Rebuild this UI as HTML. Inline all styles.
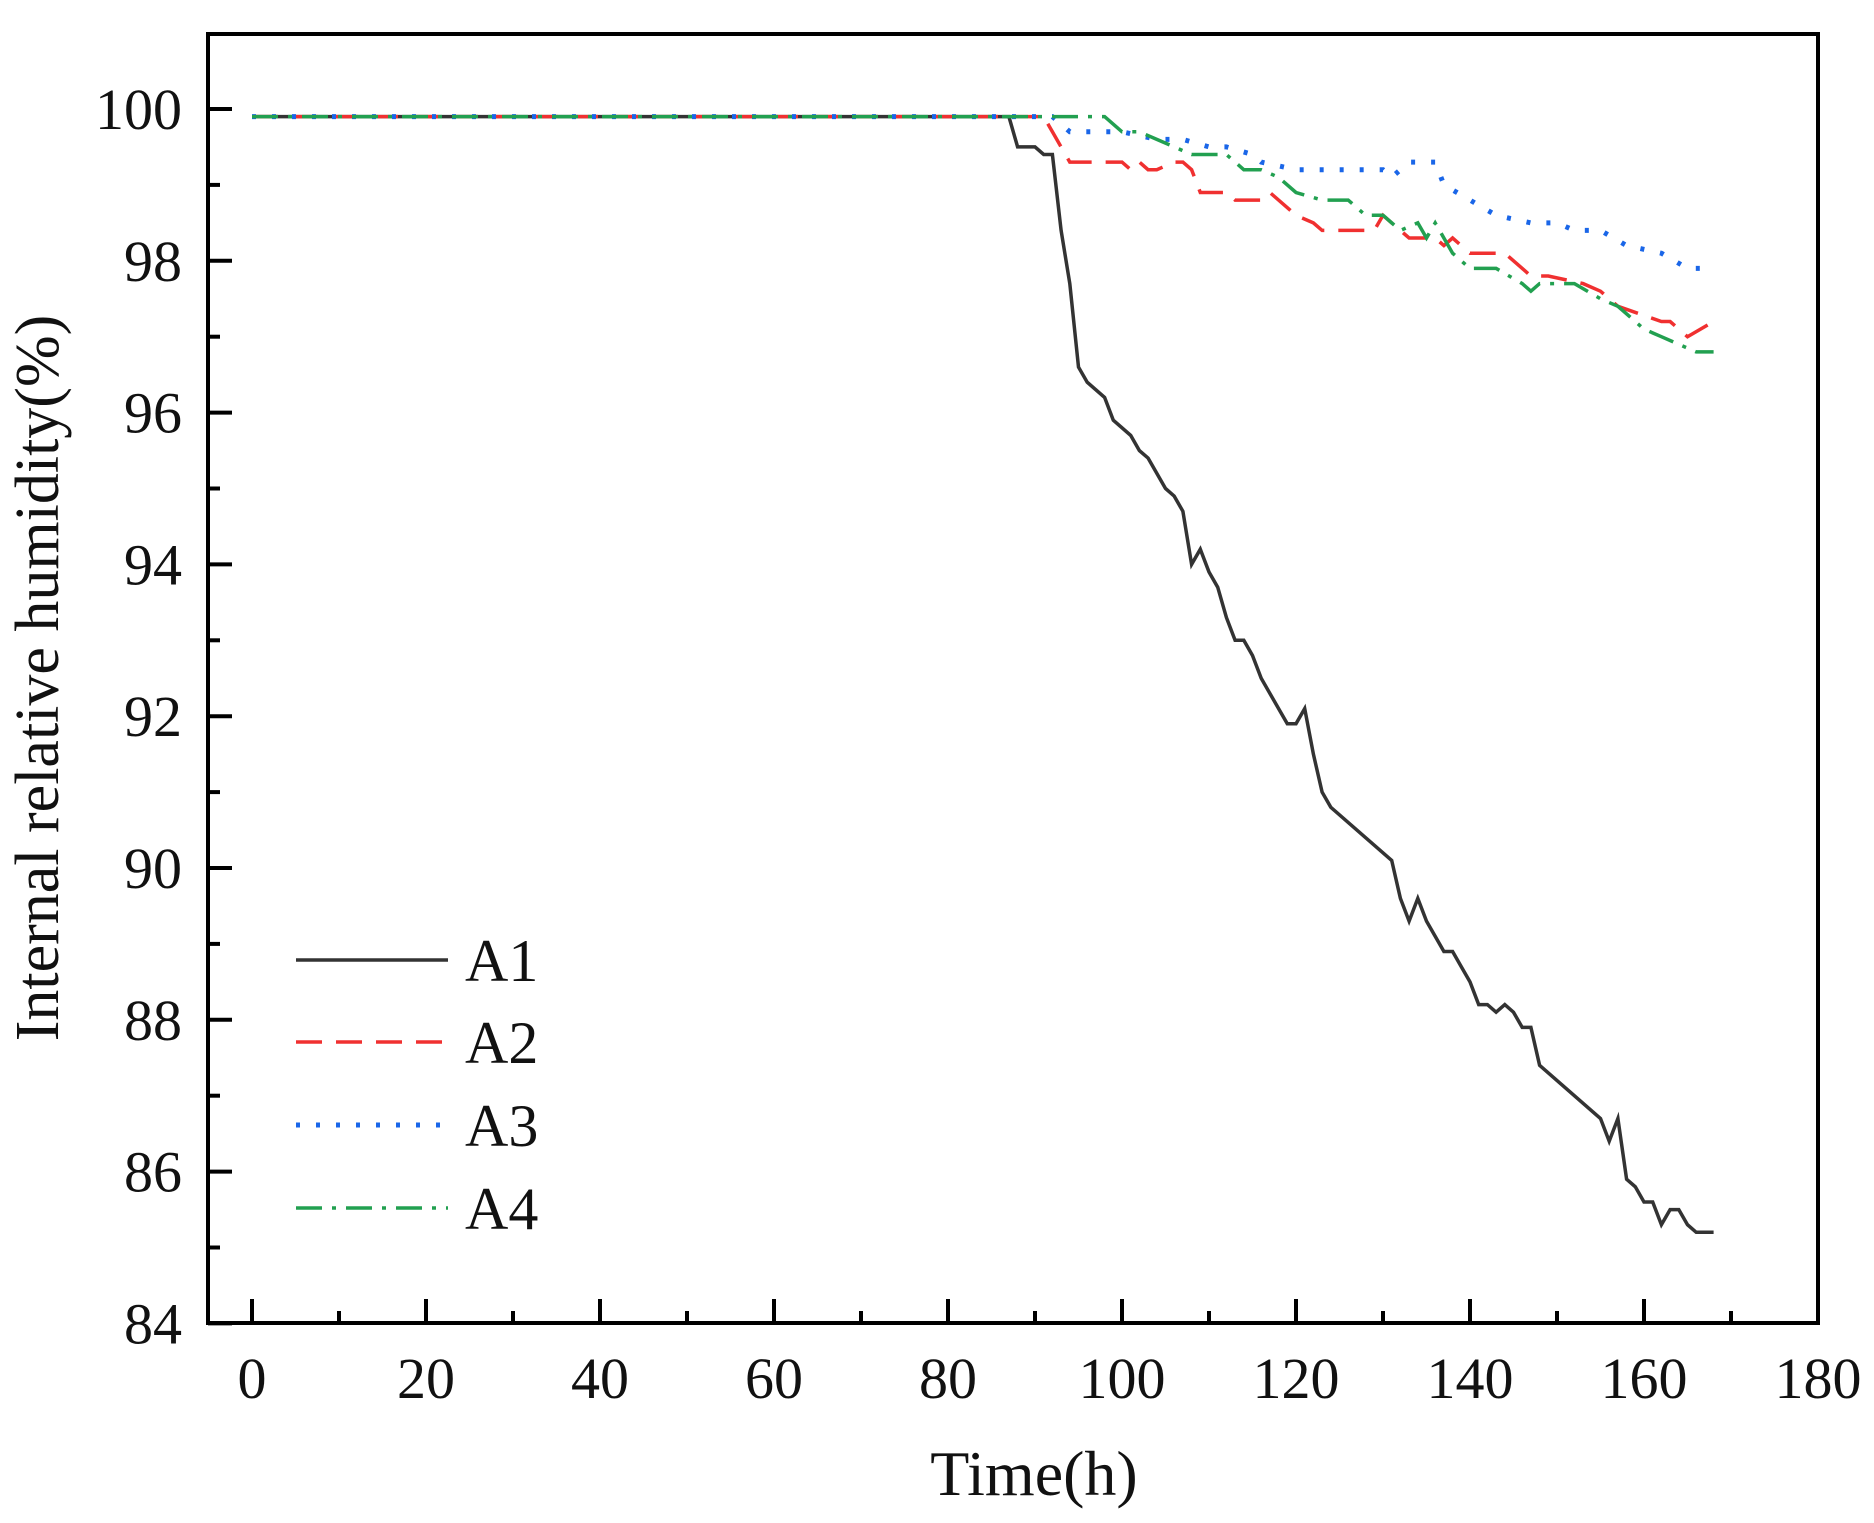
<!DOCTYPE html>
<html><head><meta charset="utf-8"><style>body{margin:0;background:#fff}svg{display:block}</style></head>
<body>
<svg id="s" width="1874" height="1523" viewBox="0 0 1874 1523" xmlns="http://www.w3.org/2000/svg" font-family="Liberation Serif, serif">
<rect width="1874" height="1523" fill="#fff"/>
<g id="plot"></g>
<g id="axes" stroke="#000" stroke-width="4" fill="none">
<path d="M208,34 H1818 V1323 H208 Z"/>
</g>
<g id="ticks" stroke="#000" stroke-width="4"></g>
<g id="labels" font-size="58" fill="#111"></g>
<text x="1034" y="1495" font-size="64" text-anchor="middle" fill="#111">Time(h)</text>
<text transform="translate(58,678) rotate(-90)" font-size="62" text-anchor="middle" fill="#111">Internal relative humidity(%)</text>
<g stroke-width="3.5" fill="none">
<line x1="296" y1="960" x2="448" y2="960" stroke="#333"/>
<line x1="296" y1="1042" x2="448" y2="1042" stroke="#f03030" stroke-dasharray="26,14"/>
<line x1="296" y1="1125" x2="448" y2="1125" stroke="#1a66e8" stroke-dasharray="4,16" stroke-width="5"/>
<line x1="296" y1="1208" x2="448" y2="1208" stroke="#22a050" stroke-dasharray="26,10,4,10"/>
</g>
<g font-size="60" fill="#111">
<text x="465" y="981">A1</text><text x="465" y="1063">A2</text><text x="465" y="1146">A3</text><text x="465" y="1229">A4</text>
</g>
</svg>
<script>
const X=t=>252+8.7*t, Y=v=>109+(100-v)*75.9;
const ns="http://www.w3.org/2000/svg";
function el(p,n,a,txt){const e=document.createElementNS(ns,n);for(const k in a)e.setAttribute(k,a[k]);if(txt!==undefined)e.textContent=txt;document.getElementById(p).appendChild(e);}
for(let t=0;t<=170;t+=10){const L=t%20==0?24:12;el("ticks","line",{x1:X(t),y1:1323,x2:X(t),y2:1323-L});}
for(let t=0;t<=180;t+=20)el("labels","text",{x:X(t),y:1398,"text-anchor":"middle"},t);
for(let v=84;v<=100;v+=1){const L=v%2==0?24:12;el("ticks","line",{x1:208,y1:Y(v),x2:208+L,y2:Y(v)});}
for(let v=84;v<=100;v+=2)el("labels","text",{x:182,y:Y(v)+20,"text-anchor":"end"},v);
const A1=[[0,99.9],[87,99.9],[88,99.5],[90,99.5],[91,99.4],[92,99.4],[93,98.4],[94,97.7],[95,96.6],[96,96.4],[98,96.2],[99,95.9],[101,95.7],[102,95.5],[103,95.4],[105,95.0],[106,94.9],[107,94.7],[108,94.0],[109,94.2],[110,93.9],[111,93.7],[112,93.3],[113,93.0],[114,93.0],[115,92.8],[116,92.5],[118,92.1],[119,91.9],[120,91.9],[121,92.1],[122,91.5],[123,91.0],[124,90.8],[131,90.1],[132,89.6],[133,89.3],[134,89.6],[135,89.3],[137,88.9],[138,88.9],[139,88.7],[140,88.5],[141,88.2],[142,88.2],[143,88.1],[144,88.2],[145,88.1],[146,87.9],[147,87.9],[148,87.4],[155,86.7],[156,86.4],[157,86.7],[158,85.9],[159,85.8],[160,85.6],[161,85.6],[162,85.3],[163,85.5],[164,85.5],[165,85.3],[166,85.2],[168,85.2]];
const A2=[[0,99.9],[91,99.9],[92,99.7],[94,99.3],[100,99.3],[101,99.2],[102,99.3],[103,99.2],[104,99.2],[106,99.3],[107,99.3],[108,99.2],[109,98.9],[112,98.9],[113,98.8],[116,98.8],[117,98.9],[120,98.6],[122,98.5],[123,98.4],[126,98.4],[129,98.4],[130,98.6],[131,98.5],[133,98.3],[136,98.3],[137,98.2],[138,98.3],[140,98.1],[144,98.1],[147,97.8],[149,97.8],[153,97.7],[155,97.6],[157,97.4],[162,97.2],[163,97.2],[165,97.0],[168,97.2]];
const A3=[[0,99.9],[92,99.9],[94,99.7],[100,99.7],[104,99.6],[107,99.6],[110,99.5],[112,99.5],[115,99.4],[116,99.3],[120,99.2],[130,99.2],[131,99.1],[133,99.3],[136,99.3],[137,99.0],[140,98.8],[143,98.6],[147,98.5],[150,98.5],[152,98.4],[155,98.4],[158,98.2],[162,98.1],[165,97.9],[168,97.9]];
const A4=[[0,99.9],[98,99.9],[100,99.7],[102,99.7],[104,99.6],[106,99.5],[108,99.4],[112,99.4],[114,99.2],[116,99.2],[118,99.1],[120,98.9],[123,98.8],[126,98.8],[128,98.6],[130,98.6],[132,98.4],[134,98.5],[135,98.3],[136,98.5],[138,98.1],[140,97.9],[143,97.9],[146,97.7],[147,97.6],[148,97.7],[152,97.7],[155,97.5],[157,97.4],[160,97.1],[162,97.0],[164,96.9],[166,96.8],[168,96.8]];
const pts=d=>d.map(p=>X(p[0]).toFixed(1)+","+Y(p[1]).toFixed(1)).join(" ");
el("plot","polyline",{points:pts(A1),stroke:"#333","stroke-width":3.5,fill:"none"});
el("plot","polyline",{points:pts(A2),stroke:"#f03030","stroke-width":3.5,fill:"none","stroke-dasharray":"26,14"});
el("plot","polyline",{points:pts(A3),stroke:"#1a66e8","stroke-width":5,fill:"none","stroke-dasharray":"4,16"});
el("plot","polyline",{points:pts(A4),stroke:"#22a050","stroke-width":3.5,fill:"none","stroke-dasharray":"26,10,4,10"});
</script>
</body></html>
